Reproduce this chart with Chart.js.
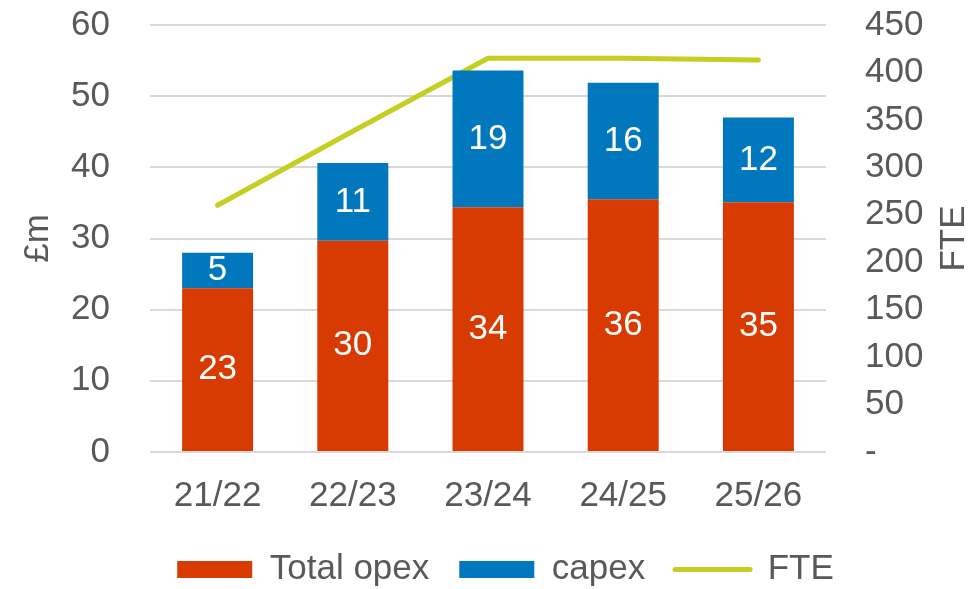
<!DOCTYPE html>
<html>
<head>
<meta charset="utf-8">
<script src="https://cdn.jsdelivr.net/npm/chart.js@4.4.1/dist/chart.umd.min.js"></script>
<style>
  html, body { margin: 0; padding: 0; background: #fff; }
  #wrap { width: 973px; height: 589px; position: relative; }
</style>
</head>
<body>
<div id="wrap"><canvas id="costChart"></canvas></div>
<script>
const years = ["21/22", "22/23", "23/24", "24/25", "25/26"];
const opex = [23.0, 29.7, 34.4, 35.5, 35.1];
const capex = [5.0, 10.9, 19.2, 16.4, 11.9];
const fte = [260, 338, 415, 415, 413];

const textColor = "#595959";
const fontFamily = "'Liberation Sans', Arial, sans-serif";

Chart.defaults.font.family = fontFamily;
Chart.defaults.font.size = 35;
Chart.defaults.color = textColor;

// white value labels in the middle of each bar segment
const segmentLabels = {
  id: "segmentLabels",
  afterDatasetsDraw(chart) {
    const ctx = chart.ctx;
    ctx.save();
    ctx.fillStyle = "#ffffff";
    ctx.font = "35px " + fontFamily;
    ctx.textAlign = "center";
    ctx.textBaseline = "middle";
    chart.data.datasets.forEach((ds, i) => {
      if (ds.type === "line") return;
      chart.getDatasetMeta(i).data.forEach((bar, j) => {
        ctx.fillText(Math.round(ds.data[j]), bar.x, (bar.y + bar.base) / 2);
      });
    });
    ctx.restore();
  }
};

// both axis titles read bottom-to-top
const axisTitles = {
  id: "axisTitles",
  afterDraw(chart) {
    const { ctx, chartArea } = chart;
    const midY = (chartArea.top + chartArea.bottom) / 2;
    ctx.save();
    ctx.fillStyle = textColor;
    ctx.font = "35px " + fontFamily;
    ctx.textAlign = "center";
    ctx.textBaseline = "middle";
    [[38, "£m"], [954, "FTE"]].forEach(([x, t]) => {
      ctx.save();
      ctx.translate(x, midY);
      ctx.rotate(-Math.PI / 2);
      ctx.fillText(t, 0, 0);
      ctx.restore();
    });
    ctx.restore();
  }
};

// fixed axis width; drop the vertical padding that tick padding adds
const fixWidth = (w) => (s) => {
  s.width = w;
  s.paddingTop = 0;
  s.paddingBottom = 0;
};

new Chart(document.getElementById("costChart"), {
  type: "bar",
  plugins: [segmentLabels, axisTitles],
  data: {
    labels: years,
    datasets: [
      {
        label: "Total opex",
        data: opex,
        backgroundColor: "#D83B01",
        pointStyle: "rect",
        categoryPercentage: 1,
        barPercentage: 0.525,
        yAxisID: "y"
      },
      {
        label: "capex",
        data: capex,
        backgroundColor: "#0177BE",
        pointStyle: "rect",
        categoryPercentage: 1,
        barPercentage: 0.525,
        yAxisID: "y"
      },
      {
        type: "line",
        label: "FTE",
        data: fte,
        borderColor: "#C5CF21",
        backgroundColor: "#C5CF21",
        borderWidth: 5,
        borderCapStyle: "round",
        borderJoinStyle: "round",
        pointRadius: 0,
        pointStyle: "line",
        tension: 0,
        yAxisID: "y2"
      }
    ]
  },
  options: {
    responsive: true,
    maintainAspectRatio: false,
    animation: false,
    layout: { padding: { left: 38, right: 0, top: 25, bottom: -8 } },
    scales: {
      x: {
        stacked: true,
        grid: { display: false },
        border: { display: false },
        ticks: { padding: 15 },
        afterFit: (s) => { s.height = 70; }
      },
      y: {
        stacked: true,
        min: 0,
        max: 60,
        ticks: { stepSize: 10, padding: 40, autoSkip: false },
        grid: { color: "#D9D9D9", lineWidth: 2, drawTicks: false },
        border: { display: false },
        afterFit: fixWidth(112)
      },
      y2: {
        position: "right",
        min: 0,
        max: 450,
        ticks: {
          stepSize: 50,
          padding: 39,
          autoSkip: false,
          callback: (v) => (v === 0 ? "-" : v)
        },
        grid: { display: false, drawTicks: false },
        border: { display: false },
        afterFit: fixWidth(147)
      }
    },
    plugins: {
      tooltip: { enabled: false },
      legend: {
        position: "bottom",
        labels: {
          usePointStyle: true,
          pointStyleWidth: 75,
          boxHeight: 17,
          padding: 30,
          color: textColor,
          generateLabels(chart) {
            const items = Chart.defaults.plugins.legend.labels.generateLabels(chart);
            items.forEach((it) => {
              if (it.text === "FTE") {
                it.lineWidth = 5;
                it.lineCap = "round";
              }
            });
            return items;
          }
        }
      }
    }
  }
});
</script>
</body>
</html>
